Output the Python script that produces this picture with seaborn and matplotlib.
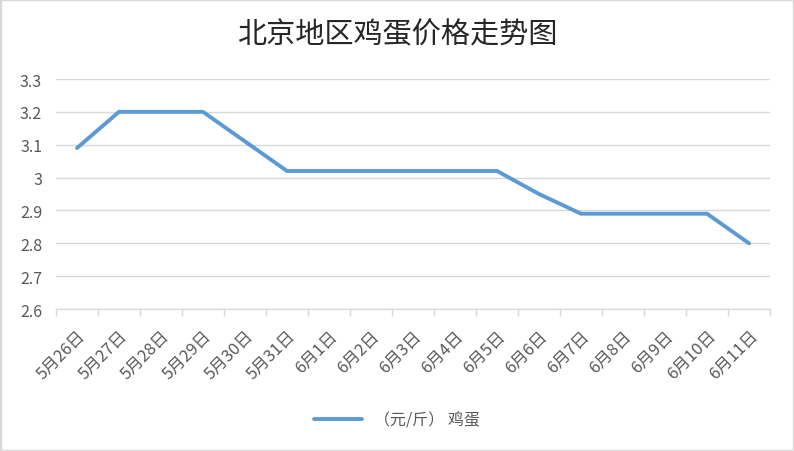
import matplotlib
matplotlib.use("Agg")
import matplotlib.pyplot as plt
import seaborn as sns
import pandas as pd
from matplotlib.patches import Rectangle
from matplotlib.ticker import FixedLocator

dates = ["5月26日", "5月27日", "5月28日", "5月29日", "5月30日", "5月31日",
         "6月1日", "6月2日", "6月3日", "6月4日", "6月5日", "6月6日",
         "6月7日", "6月8日", "6月9日", "6月10日", "6月11日"]
prices = [3.09, 3.20, 3.20, 3.20, 3.11, 3.02,
          3.02, 3.02, 3.02, 3.02, 3.02, 2.95,
          2.89, 2.89, 2.89, 2.89, 2.80]
series_name = "（元/斤） 鸡蛋"
yticks = [2.6, 2.7, 2.8, 2.9, 3.0, 3.1, 3.2, 3.3]
ytick_labels = ["2.6", "2.7", "2.8", "2.9", "3", "3.1", "3.2", "3.3"]
title = "北京地区鸡蛋价格走势图"

sns.set_theme(style="white")
plt.rcParams['font.family'] = ['Noto Sans CJK SC', 'DejaVu Sans']

df = pd.DataFrame({"date": dates, "price": prices, "series": series_name})

fig = plt.figure(figsize=(7.94, 4.52), dpi=100)
ax = fig.add_axes([56/794, 1-310/452, (770-56)/794, (310-80)/452])

sns.lineplot(data=df, x="date", y="price", hue="series", sort=False,
             palette=["#5B9BD5"], linewidth=2.8, ax=ax, legend=True)

ax.set_xlim(-0.5, len(dates)-0.5)
ax.set_ylim(2.6, 3.3)
ax.set_yticks(yticks)
ax.set_yticklabels(ytick_labels)
ax.set_xticks(range(len(dates)))
ax.set_xticklabels(dates, rotation=45, ha="right", rotation_mode="anchor")
ax.xaxis.set_minor_locator(FixedLocator([i - 0.5 for i in range(len(dates)+1)]))
ax.tick_params(axis="x", which="major", length=0, pad=13, labelsize=12, labelcolor="#595959")
ax.tick_params(axis="x", which="minor", length=5, width=1, color="#d9d9d9", direction="out", bottom=True)
ax.tick_params(axis="y", length=0, pad=10, labelsize=11.5, labelcolor="#595959")
ax.set_xlabel("")
ax.set_ylabel("")
ax.grid(axis="y", color="#d9d9d9", linewidth=1)
ax.grid(axis="x", visible=False)
for s in ["top", "right", "left"]:
    ax.spines[s].set_visible(False)
ax.spines["bottom"].set_color("#d9d9d9")
ax.spines["bottom"].set_linewidth(1)
ax.set_axisbelow(True)

handles, labels = ax.get_legend_handles_labels()
ax.get_legend().remove()
fig.legend(handles, labels, loc="center", bbox_to_anchor=(0.5, 1-421/452), frameon=False,
           fontsize=11.5, labelcolor="#595959", handlelength=3.0)

fig.text(0.5, 1-35/452, title, ha="center", va="center", fontsize=21, color="#262626",
         fontweight="medium")

fig.patches.append(Rectangle((0, 0), 1, 1, transform=fig.transFigure, fill=False,
                             edgecolor="#d9d9d9", linewidth=2.5))

fig.savefig("out.png", dpi=100, facecolor="white")
